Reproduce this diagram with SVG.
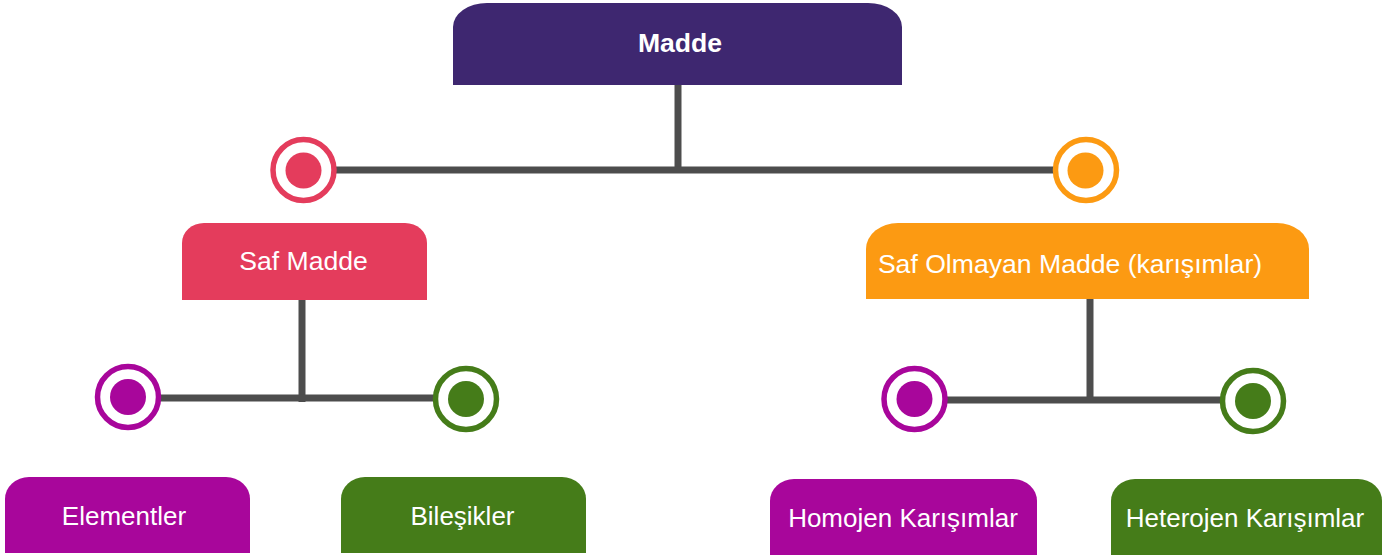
<svg xmlns="http://www.w3.org/2000/svg" width="1388" height="555" viewBox="0 0 1388 555">
  <style>
    .lbl { font-family: "Liberation Sans", Arial, sans-serif; font-size: 26px; fill: #ffffff; text-anchor: middle; }
    .mid { font-size: 26.6px; }
    .bold { font-weight: bold; }
    .conn { stroke: #4d4d4d; stroke-width: 7; fill: none; }
    .ring { fill: #ffffff; stroke-width: 5.5; }
  </style>
  <rect width="1388" height="555" fill="#ffffff"/>
  <g id="connectors">
    <path class="conn" d="M678,85 V170"/>
    <path class="conn" d="M336,170 H1055"/>
    <path class="conn" d="M302,300 V402"/>
    <path class="conn" d="M160,398 H434"/>
    <path class="conn" d="M1090,299 V403"/>
    <path class="conn" d="M947,400 H1221"/>
  </g>
  <g id="markers">
    <g id="m-saf"><circle class="ring" cx="303.5" cy="170" r="30.5" stroke="#e43c5c"/><circle cx="303.5" cy="170.5" r="18" fill="#e43c5c"/></g>
    <g id="m-karisim"><circle class="ring" cx="1086" cy="170" r="30.5" stroke="#fc9a12"/><circle cx="1085.5" cy="170.5" r="18" fill="#fc9a12"/></g>
    <g id="m-element"><circle class="ring" cx="128" cy="397" r="30.5" stroke="#a8069b"/><circle cx="128" cy="397" r="18" fill="#a8069b"/></g>
    <g id="m-bilesik"><circle class="ring" cx="466" cy="399" r="30.5" stroke="#457c19"/><circle cx="466" cy="399" r="18" fill="#457c19"/></g>
    <g id="m-homojen"><circle class="ring" cx="914.5" cy="399" r="30.5" stroke="#a8069b"/><circle cx="914.5" cy="399" r="18" fill="#a8069b"/></g>
    <g id="m-heterojen"><circle class="ring" cx="1253" cy="401" r="30.5" stroke="#457c19"/><circle cx="1253" cy="401" r="18" fill="#457c19"/></g>
  </g>
  <g id="madde">
    <path d="M453,85 V27 A34,24 0 0 1 487,3 H868 A34,24 0 0 1 902,27 V85 Z" fill="#3e2770"/>
    <text class="lbl bold mid" x="680" y="52">Madde</text>
  </g>
  <g id="saf-madde">
    <path d="M182,300 V243 A22,20 0 0 1 204,223 H405 A22,20 0 0 1 427,243 V300 Z" fill="#e43c5c"/>
    <text class="lbl mid" x="303.5" y="270">Saf Madde</text>
  </g>
  <g id="saf-olmayan">
    <path d="M866,299 V249 A32,26 0 0 1 898,223 H1277 A32,26 0 0 1 1309,249 V299 Z" fill="#fc9a12"/>
    <text class="lbl mid" x="1070" y="273">Saf Olmayan Madde (karışımlar)</text>
  </g>
  <g id="elementler">
    <path d="M5,553 V499 A24,22 0 0 1 29,477 H226 A24,22 0 0 1 250,499 V553 Z" fill="#a8069b"/>
    <text class="lbl" x="124" y="525">Elementler</text>
  </g>
  <g id="bilesikler">
    <path d="M341,553 V499 A24,22 0 0 1 365,477 H562 A24,22 0 0 1 586,499 V553 Z" fill="#457c19"/>
    <text class="lbl" x="462.5" y="525">Bileşikler</text>
  </g>
  <g id="homojen">
    <path d="M770,555 V501 A24,22 0 0 1 794,479 H1013 A24,22 0 0 1 1037,501 V555 Z" fill="#a8069b"/>
    <text class="lbl" x="903" y="527">Homojen Karışımlar</text>
  </g>
  <g id="heterojen">
    <path d="M1111,555 V501 A24,22 0 0 1 1135,479 H1358 A24,22 0 0 1 1382,501 V555 Z" fill="#457c19"/>
    <text class="lbl" x="1245" y="527">Heterojen Karışımlar</text>
  </g>
</svg>
